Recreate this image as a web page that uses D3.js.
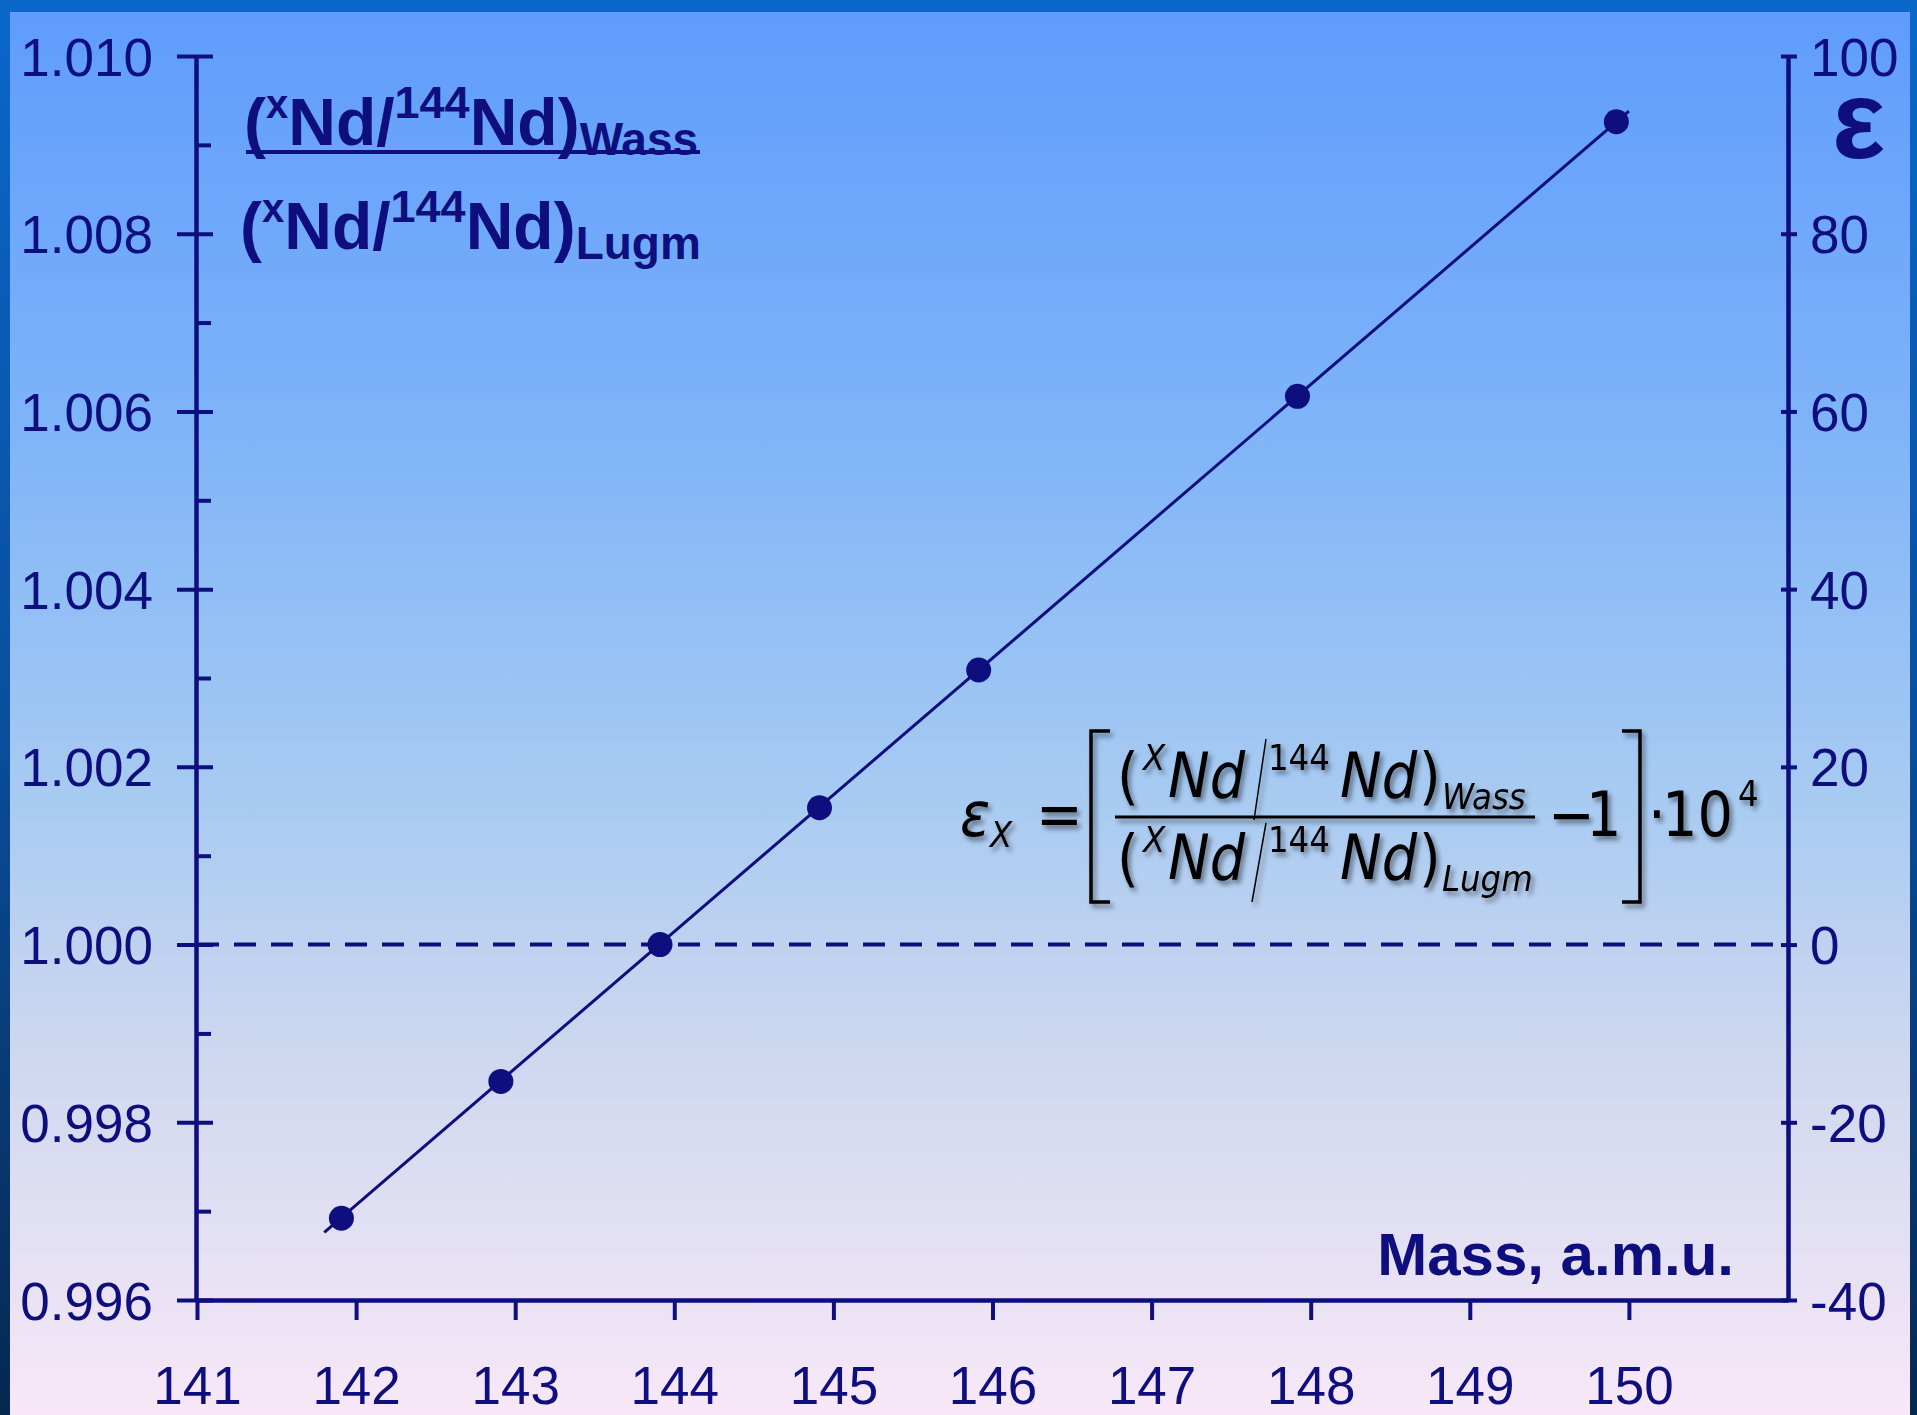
<!DOCTYPE html>
<html>
<head>
<meta charset="utf-8">
<title>Nd isotope mass fractionation</title>
<script src="https://cdn.jsdelivr.net/npm/d3@7"></script>
<style>
  html, body { margin: 0; padding: 0; background: #0a4f9e; }
  svg { display: block; }
</style>
</head>
<body>
<svg id="chart" width="1917" height="1415"></svg>
<script>
// Axis ticks
const massTicks = [141, 142, 143, 144, 145, 146, 147, 148, 149, 150];
const ratioTicks = [0.996, 0.998, 1.000, 1.002, 1.004, 1.006, 1.008, 1.010];
const ratioMinorTicks = [0.997, 0.999, 1.001, 1.003, 1.005, 1.007, 1.009];
const epsilonTicks = [-40, -20, 0, 20, 40, 60, 80, 100];

// Measured Nd isotopes: atomic mass and ratio (xNd/144Nd)Wass / (xNd/144Nd)Lugm
const isotopeMass = [141.9077, 142.9098, 143.9101, 144.9126, 145.9131, 147.9169, 149.9209];
const ratioValues = [0.99692, 0.99846, 1.00000, 1.00154, 1.00309, 1.00617, 1.00926];

// Linear fit through the isotopes
const fitMass = [141.80, 150.00];
const fitRatio = [0.99676, 1.00938];

// Reference level (no fractionation)
const referenceRatio = 1.000;

const NAVY = "#0e0e7e";
const svg = d3.select("#chart");
const W = 1917, H = 1415;

const defs = svg.append("defs");
const frameGrad = defs.append("linearGradient").attr("id", "frameGrad")
  .attr("x1", 0).attr("y1", 0).attr("x2", 0).attr("y2", 1);
frameGrad.append("stop").attr("offset", 0).attr("stop-color", "#0a67ca");
frameGrad.append("stop").attr("offset", 0.5).attr("stop-color", "#0a4f9e");
frameGrad.append("stop").attr("offset", 1).attr("stop-color", "#062850");

const panelGrad = defs.append("linearGradient").attr("id", "panelGrad")
  .attr("x1", 0).attr("y1", 0).attr("x2", 0).attr("y2", 1);
[[0, "#5f9cfc"], [0.3, "#7fb4f8"], [0.55, "#a6caf2"], [0.75, "#cfd8ef"], [1, "#f8e8f7"]]
  .forEach(([o, c]) => panelGrad.append("stop").attr("offset", o).attr("stop-color", c));

const shadow = defs.append("filter").attr("id", "shadow")
  .attr("x", "-10%").attr("y", "-10%").attr("width", "130%").attr("height", "130%");
shadow.append("feDropShadow").attr("dx", 3).attr("dy", 4).attr("stdDeviation", 2.5)
  .attr("flood-color", "#000").attr("flood-opacity", 0.45);

// Slide frame and panel
svg.append("rect").attr("width", W).attr("height", H).attr("fill", "url(#frameGrad)");
svg.append("rect").attr("x", 10).attr("y", 12).attr("width", 1900).attr("height", H - 12)
  .attr("fill", "url(#panelGrad)");

// Scales
const x = d3.scaleLinear().domain([141, 151]).range([197, 1788]);
const y = d3.scaleLinear().domain([0.996, 1.010]).range([1300, 56]);
const yEps = d3.scaleLinear().domain([-40, 100]).range([1300, 56]);

const tickFont = "'Liberation Sans', Arial, sans-serif";
// plain hyphen for negative numbers
const intFormat = d => String(d);

function styleAxis(g) {
  g.select(".domain").attr("stroke", NAVY).attr("stroke-width", 4.5);
  g.selectAll(".tick line").attr("stroke", NAVY).attr("stroke-width", 4);
  g.selectAll(".tick text").attr("fill", NAVY).attr("font-size", 53)
    .attr("font-family", tickFont);
}

// Left axis: ratio
const leftAxis = svg.append("g").attr("transform", `translate(${x(141) - 1},0)`)
  .call(d3.axisLeft(y).tickValues(ratioTicks).tickSizeInner(19).tickSizeOuter(0)
    .tickPadding(24).tickFormat(d3.format(".3f")));
styleAxis(leftAxis);
leftAxis.selectAll(".tick line").attr("x1", 17);
leftAxis.selectAll(".tick text").attr("dy", "0.36em");

// Left axis minor ticks, pointing inward
const leftMinor = svg.append("g").attr("transform", `translate(${x(141) - 1},0)`)
  .call(d3.axisRight(y).tickValues(ratioMinorTicks).tickSize(15).tickFormat(""));
leftMinor.select(".domain").remove();
leftMinor.selectAll(".tick line").attr("stroke", NAVY).attr("stroke-width", 4);

// Right axis: epsilon
const rightAxis = svg.append("g").attr("transform", `translate(${x(151)},0)`)
  .call(d3.axisRight(yEps).tickValues(epsilonTicks).tickSizeInner(9).tickSizeOuter(0)
    .tickPadding(13).tickFormat(intFormat));
styleAxis(rightAxis);
rightAxis.selectAll(".tick line").attr("x1", -7);
rightAxis.selectAll(".tick text").attr("dy", "0.36em");

// Bottom axis: mass
const bottomAxis = svg.append("g").attr("transform", `translate(0,${y(0.996)})`)
  .call(d3.axisBottom(x).tickValues(massTicks).tickSizeInner(20).tickSizeOuter(0)
    .tickPadding(46).tickFormat(intFormat));
styleAxis(bottomAxis);

// Reference level
svg.append("line")
  .attr("x1", x(141)).attr("x2", x(151))
  .attr("y1", y(referenceRatio)).attr("y2", y(referenceRatio))
  .attr("stroke", NAVY).attr("stroke-width", 4).attr("stroke-dasharray", "22,15");

// Fit line
svg.append("path")
  .datum(fitMass.map((m, i) => [m, fitRatio[i]]))
  .attr("d", d3.line().x(d => x(d[0])).y(d => y(d[1])))
  .attr("fill", "none").attr("stroke", NAVY).attr("stroke-width", 3);

// Isotope points
svg.append("g").selectAll("circle")
  .data(isotopeMass.map((m, i) => [m, ratioValues[i]]))
  .join("circle")
  .attr("cx", d => x(d[0])).attr("cy", d => y(d[1])).attr("r", 12.5)
  .attr("fill", NAVY);

// Left axis title: ratio of ratios
const titleFont = "'Liberation Sans', Arial, sans-serif";
function ratioLabel(xPos, yPos, lab) {
  const t = svg.append("text").attr("x", xPos).attr("y", yPos)
    .attr("font-family", titleFont).attr("font-weight", "bold")
    .attr("font-size", 66).attr("fill", NAVY);
  t.append("tspan").text("(");
  t.append("tspan").attr("dy", -27).attr("font-size", 40).text("x");
  t.append("tspan").attr("dy", 27).text("Nd/");
  t.append("tspan").attr("dy", -27).attr("font-size", 45).text("144");
  t.append("tspan").attr("dy", 27).text("Nd)");
  t.append("tspan").attr("dy", 10).attr("font-size", 46).text(lab);
  return t;
}
ratioLabel(244, 145, "Wass");
svg.append("line").attr("x1", 246).attr("x2", 700).attr("y1", 152).attr("y2", 152)
  .attr("stroke", NAVY).attr("stroke-width", 4);
ratioLabel(240, 249, "Lugm");

// Right axis title
svg.append("text").attr("x", 1832).attr("y", 158)
  .attr("font-family", titleFont).attr("font-weight", "bold")
  .attr("font-size", 112).attr("fill", NAVY).text("ε");

// Bottom axis title
svg.append("text").attr("x", 1734).attr("y", 1275).attr("text-anchor", "end")
  .attr("font-family", titleFont).attr("font-weight", "bold")
  .attr("font-size", 60).attr("fill", NAVY).text("Mass, a.m.u.");

// Epsilon definition
const f = svg.append("g").attr("filter", "url(#shadow)")
  .attr("font-family", "'DejaVu Sans', Verdana, sans-serif")
  .attr("font-stretch", "condensed").attr("fill", "#000");
function ft(xp, yp, s, size, italic) {
  f.append("text").attr("x", xp).attr("y", yp).attr("font-size", size)
    .attr("font-style", italic ? "italic" : "normal").text(s);
}
ft(960, 836, "ε", 62, true);
ft(990, 847, "X", 36, true);
ft(1036, 836, "=", 62, false);
// brackets
f.append("path").attr("d", "M1110,731 H1091 V902 H1110")
  .attr("fill", "none").attr("stroke", "#000").attr("stroke-width", 3.5);
f.append("path").attr("d", "M1622,731 H1640 V902 H1622")
  .attr("fill", "none").attr("stroke", "#000").attr("stroke-width", 3.5);
function ratioTerm(base, lab) {
  ft(1117, base, "(", 62, false);
  ft(1143, base - 27, "X", 36, true);
  ft(1168, base, "Nd", 62, true);
  ft(1268, base - 27, "144", 36, false);
  ft(1340, base, "Nd", 62, true);
  ft(1419, base, ")", 62, false);
  ft(1442, base + 12, lab, 36, true);
}
ratioTerm(797, "Wass");
ratioTerm(879, "Lugm");
f.append("line").attr("x1", 1266).attr("y1", 739).attr("x2", 1254).attr("y2", 820)
  .attr("stroke", "#000").attr("stroke-width", 1.5);
f.append("line").attr("x1", 1266).attr("y1", 823).attr("x2", 1252).attr("y2", 902)
  .attr("stroke", "#000").attr("stroke-width", 1.5);
f.append("line").attr("x1", 1115).attr("x2", 1535).attr("y1", 817).attr("y2", 817)
  .attr("stroke", "#000").attr("stroke-width", 3);
ft(1548, 836, "−", 62, false);
ft(1586, 836, "1", 62, false);
ft(1648, 836, "·", 62, false);
ft(1662, 836, "10", 62, false);
ft(1738, 806, "4", 36, false);
</script>
</body>
</html>
